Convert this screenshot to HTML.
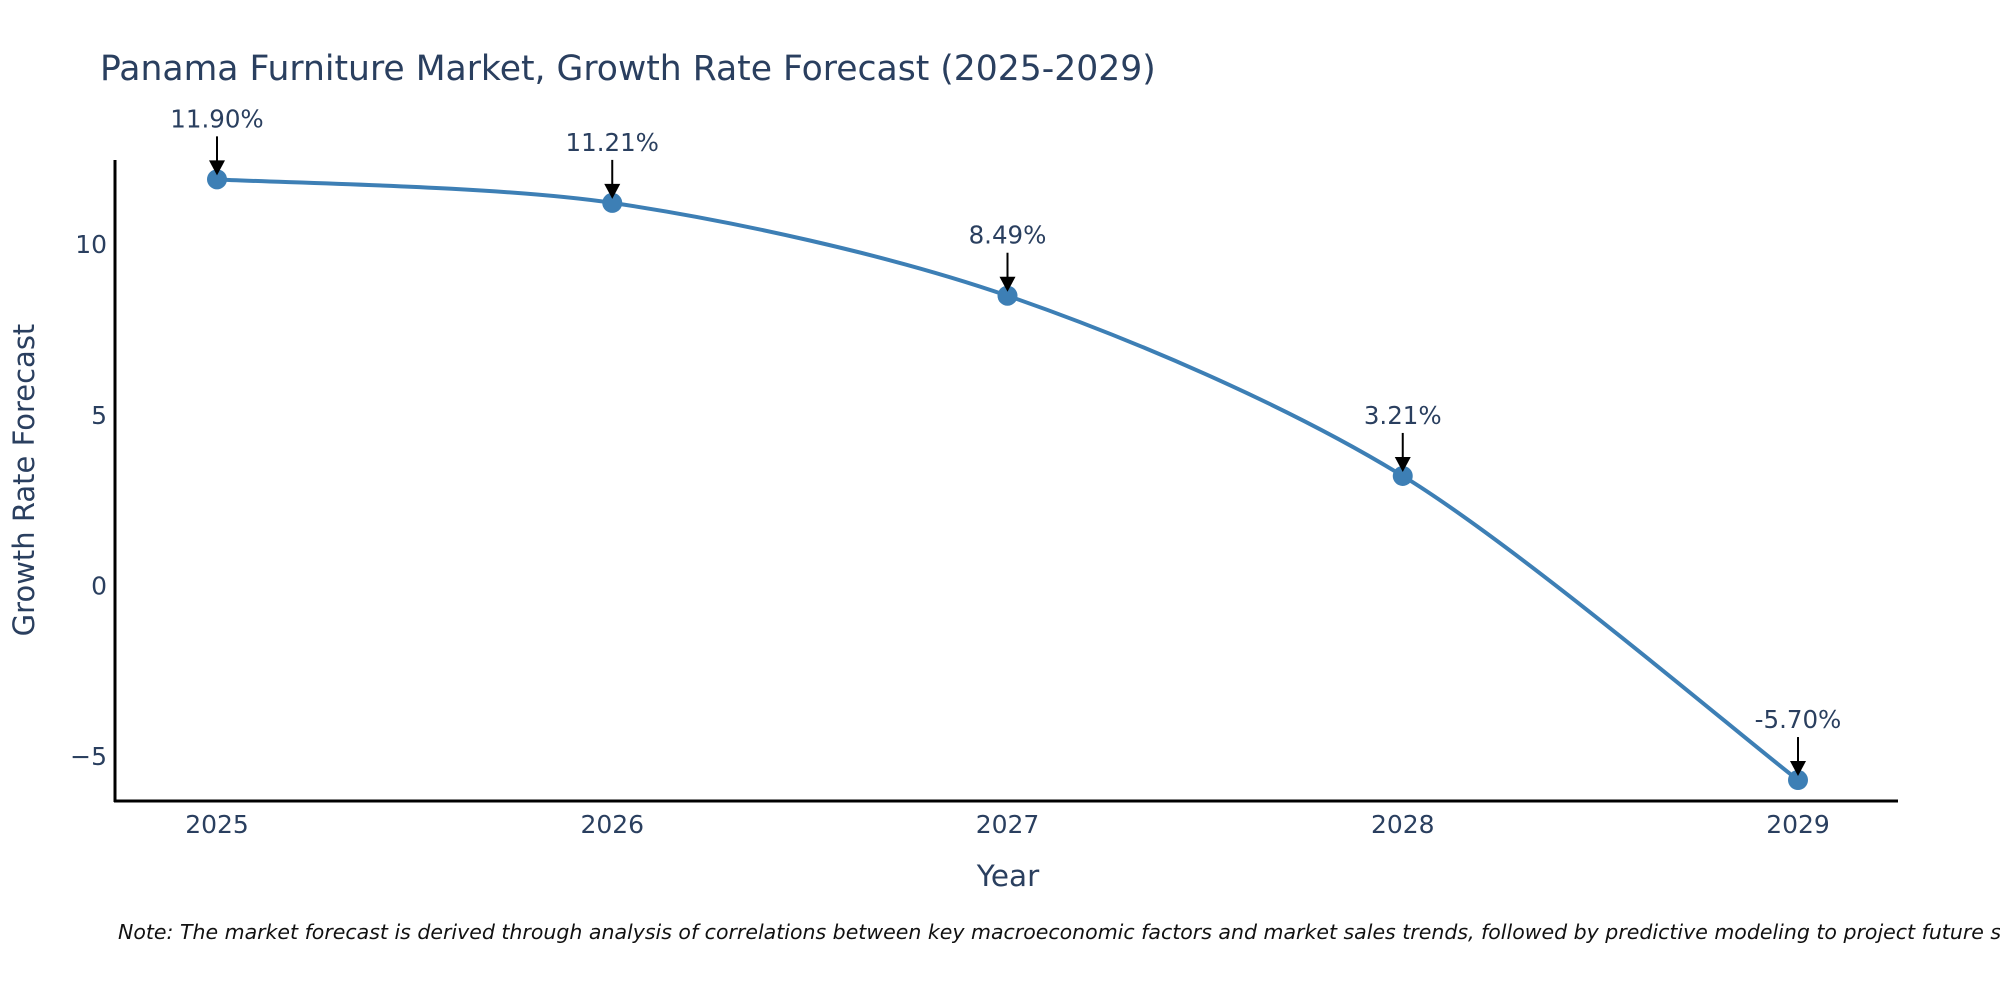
<!DOCTYPE html>
<html><head><meta charset="utf-8"><style>
body{margin:0;background:#fff;overflow:hidden;}
svg text{font-family:"DejaVu Sans","Liberation Sans",sans-serif;fill:#2a3f5f;}
</style></head><body>
<svg id="chart" width="2000" height="1000" xmlns="http://www.w3.org/2000/svg">
<text x="100" y="80" font-size="34.6">Panama Furniture Market, Growth Rate Forecast (2025-2029)</text>
<g id="yticks"></g><g id="xticks"></g>
<line x1="115" y1="160" x2="115" y2="802" stroke="#000" stroke-width="3"/>
<line x1="114" y1="801" x2="1898" y2="801" stroke="#000" stroke-width="3"/>
<path id="line" fill="none" stroke="#3d7fb5" stroke-width="4"/>
<g id="points"></g><g id="annos"></g>
<text transform="translate(34,480) rotate(-90)" text-anchor="middle" font-size="29">Growth Rate Forecast</text>
<text x="1008" y="886" text-anchor="middle" font-size="29.5">Year</text>
<text x="118" y="939" font-size="20.5" font-style="italic" style="fill:#111">Note: The market forecast is derived through analysis of correlations between key macroeconomic factors and market sales trends, followed by predictive modeling to project future sales.</text>
</svg>
<script>
const years=[2025,2026,2027,2028,2029];
const values=[11.90,11.21,8.49,3.21,-5.70];
const labels=["11.90%","11.21%","8.49%","3.21%","-5.70%"];
const yTicks=[-5,0,5,10];
const yTickLabels=["\u22125","0","5","10"];
const NS="http://www.w3.org/2000/svg";
function X(yr){return 217+(yr-2025)*(1798-217)/4;}
function Y(v){return 585.5-34.13*v;}
function mk(tag,attrs,parent){const e=document.createElementNS(NS,tag);for(const k in attrs)e.setAttribute(k,attrs[k]);parent.appendChild(e);return e;}
const yt=document.getElementById('yticks');
yTicks.forEach((t,i)=>{const e=mk('text',{x:107,y:Y(t)+9,'text-anchor':'end','font-size':25},yt);


e.textContent=yTickLabels[i];});
const xt=document.getElementById('xticks');
years.forEach(yr=>{const e=mk('text',{x:X(yr),y:833,'text-anchor':'middle','font-size':25},xt);


e.textContent=yr;});
const P=years.map((yr,i)=>[X(yr),Y(values[i])]);
let d='M'+P[0][0]+','+P[0][1];
for(let i=0;i<P.length-1;i++){const p0=P[Math.max(0,i-1)],p1=P[i],p2=P[i+1],p3=P[Math.min(P.length-1,i+2)];const s=0.15;
d+=' C'+(p1[0]+(p2[0]-p0[0])*s)+','+(p1[1]+(p2[1]-p0[1])*s)+' '+(p2[0]-(p3[0]-p1[0])*s)+','+(p2[1]-(p3[1]-p1[1])*s)+' '+p2[0]+','+p2[1];}
document.getElementById('line').setAttribute('d',d);
const pts=document.getElementById('points'),an=document.getElementById('annos');
P.forEach((p,i)=>{const c=mk('circle',{cx:p[0],cy:p[1],r:10,fill:'#3d7fb5'},pts);


const l=mk('line',{x1:p[0],y1:p[1]-43,x2:p[0],y2:p[1]-14,stroke:'#000','stroke-width':2},an);


const h=mk('polygon',{points:(p[0]-8)+','+(p[1]-19)+' '+(p[0]+8)+','+(p[1]-19)+' '+p[0]+','+(p[1]-4),fill:'#000'},an);


const t=mk('text',{x:p[0],y:p[1]-52,'text-anchor':'middle','font-size':24.5},an);


t.textContent=labels[i];});
</script>
</body></html>
